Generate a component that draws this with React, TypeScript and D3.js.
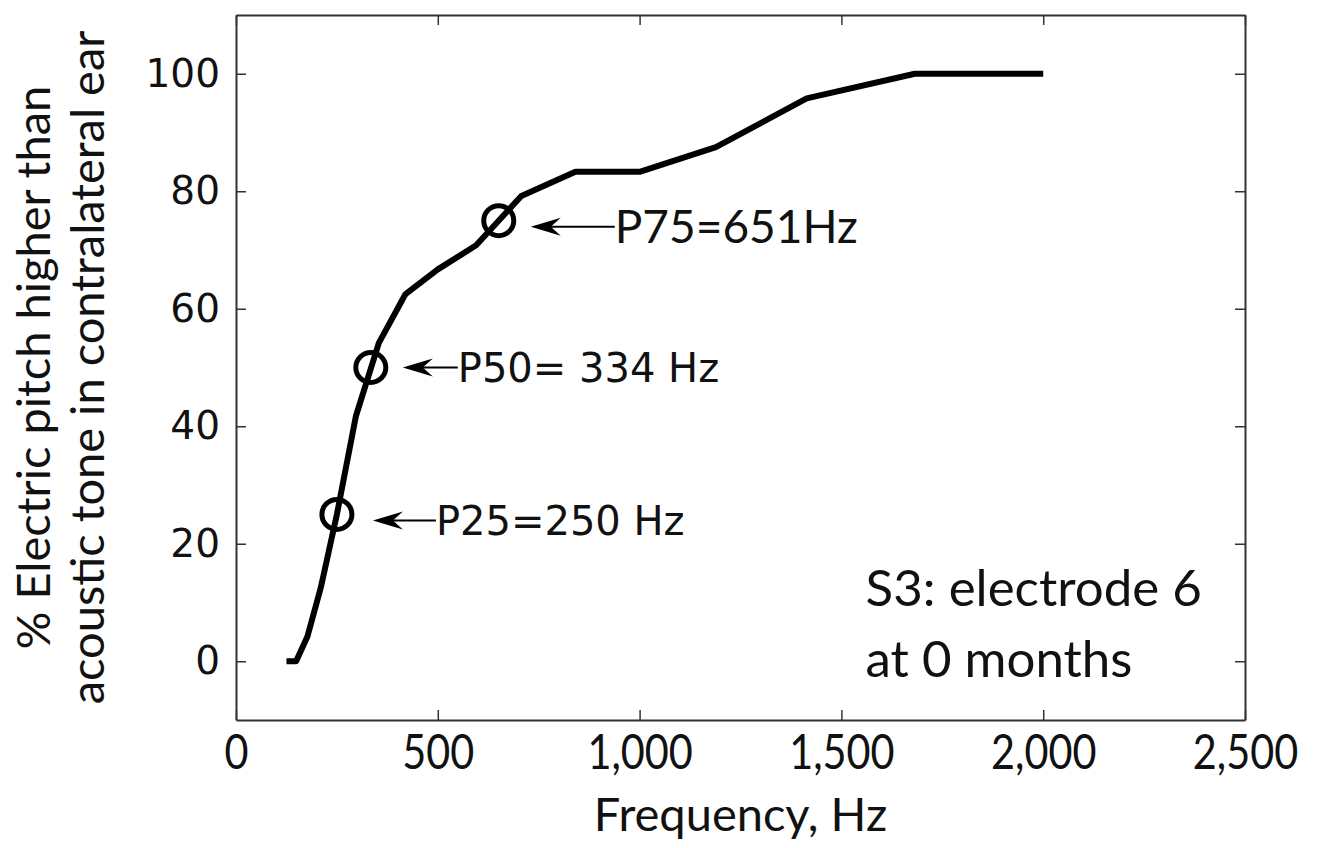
import React, { useRef, useEffect } from 'react';
import * as d3 from 'd3';

// quarter-octave test frequencies (Hz) and % "higher" responses
const freqs = [125, 149, 177, 210, 250, 297, 354, 420, 500, 595, 707, 841, 1000, 1189, 1414, 1682, 2000];
const pctHigher = [0, 0, 4.2, 12.5, 25, 41.7, 54.2, 62.5, 66.7, 70.8, 79.2, 83.3, 83.3, 87.5, 95.8, 100, 100];

// marked percentiles
const pLevels = [75, 50, 25];
const pFreqs = [651, 334, 250];
const pLabels = ['P75=651Hz', 'P50= 334 Hz', 'P25=250 Hz'];

const xTicks = [0, 500, 1000, 1500, 2000, 2500];
const yTicks = [0, 20, 40, 60, 80, 100];

export default function App() {
  const svgRef = useRef<SVGSVGElement>(null);

  useEffect(() => {
    const W = 1323, H = 848;
    const m = { left: 236, top: 15, right: 78, bottom: 128 };
    const w = W - m.left - m.right;
    const h = H - m.top - m.bottom;

    const svg = d3.select(svgRef.current).attr('width', W).attr('height', H);
    svg.selectAll('*').remove();

    const x = d3.scaleLinear().domain([0, 2500]).range([0, w]);
    const y = d3.scaleLinear().domain([-10, 110]).range([h, 0]);

    const g = svg.append('g').attr('transform', `translate(${m.left},${m.top})`);

    // box + inward ticks on all sides (matlab style)
    const fmt = d3.format(',');
    const xb = g.append('g').attr('transform', `translate(0,${h})`)
      .call(d3.axisBottom(x).tickValues(xTicks).tickSizeInner(-10).tickSizeOuter(0).tickPadding(26).tickFormat(d => fmt(d as number)));
    const xt = g.append('g').call(d3.axisTop(x).tickValues(xTicks).tickSizeInner(-10).tickSizeOuter(0).tickFormat(() => ''));
    const yl = g.append('g').call(d3.axisLeft(y).tickValues(yTicks).tickSizeInner(-10).tickSizeOuter(0).tickPadding(16));
    const yr = g.append('g').attr('transform', `translate(${w},0)`)
      .call(d3.axisRight(y).tickValues(yTicks).tickSizeInner(-10).tickSizeOuter(0).tickFormat(() => ''));
    [xb, xt, yl, yr].forEach(a => {
      a.select('.domain').attr('stroke', '#333').attr('stroke-width', 2);
      a.selectAll('.tick line').attr('stroke', '#333').attr('stroke-width', 1.5);
    });
    xb.selectAll('.tick text').attr('font-family', 'Lato, sans-serif').attr('font-size', 46)
      .attr('fill', '#111').attr('transform', 'scale(0.9,1.05)').attr('dy', '0.45em');
    yl.selectAll('.tick text').attr('font-family', '"DejaVu Sans", sans-serif').attr('font-size', 39).attr('fill', '#111');

    // curve
    const pts = freqs.map((f, i) => [f, pctHigher[i]] as [number, number]);
    g.append('path').datum(pts)
      .attr('d', d3.line<[number, number]>().x(d => x(d[0])).y(d => y(d[1])))
      .attr('fill', 'none').attr('stroke', '#000').attr('stroke-width', 6).attr('stroke-linejoin', 'round');

    // percentile markers and arrows
    const arrowGap = [32, 32, 36];
    const arrowLen = [84, 55, 63];
    const fonts = ['Lato, sans-serif', '"DejaVu Sans", sans-serif', '"DejaVu Sans", sans-serif'];
    const fsize = [46, 40, 40];
    pLevels.forEach((p, i) => {
      const cx = x(pFreqs[i]);
      const cy = y(p);
      g.append('circle').attr('cx', cx).attr('cy', cy).attr('r', 15)
        .attr('fill', 'none').attr('stroke', '#000').attr('stroke-width', 5);
      const ay = cy + (i === 1 ? 0 : 6);
      const tip = cx + arrowGap[i];
      const tail = tip + arrowLen[i];
      g.append('line').attr('x1', tip + 4).attr('x2', tail).attr('y1', ay).attr('y2', ay)
        .attr('stroke', '#000').attr('stroke-width', 2);
      g.append('path')
        .attr('d', `M${tip},${ay} L${tip + 30},${ay - 9} L${tip + 20},${ay} L${tip + 30},${ay + 9} Z`)
        .attr('fill', '#000');
      g.append('text').attr('x', tail).attr('y', ay).attr('dy', '0.36em')
        .attr('font-family', fonts[i]).attr('font-size', fsize[i]).attr('fill', '#111')
        .text(pLabels[i]);
    });

    // note
    const note = g.append('text').attr('font-family', 'Lato, sans-serif').attr('font-size', 51).attr('fill', '#111');
    note.append('tspan').attr('x', x(1560)).attr('y', y(0) - 55).text('S3: electrode 6');
    note.append('tspan').attr('x', x(1560)).attr('y', y(0) + 16).text('at 0 months');

    // axis titles
    svg.append('text').attr('x', m.left + x(1250)).attr('y', 831)
      .attr('text-anchor', 'middle').attr('font-family', 'Lato, sans-serif').attr('font-size', 47).attr('fill', '#111')
      .text('Frequency, Hz');
    const yt = svg.append('text').attr('transform', `translate(0,${m.top + y(50)}) rotate(-90) scale(1,1)`)
      .attr('text-anchor', 'middle').attr('font-family', 'Lato, sans-serif').attr('font-size', 47).attr('fill', '#111');
    yt.append('tspan').attr('x', 0).attr('y', 50).text('% Electric pitch higher than');
    yt.append('tspan').attr('x', 0).attr('y', 104).text('acoustic tone in contralateral ear');
  }, []);

  return (
    <div style={{ position: 'absolute', left: 0, top: 0, background: '#fff' }}>
      <svg ref={svgRef} style={{ display: 'block' }}></svg>
    </div>
  );
}
